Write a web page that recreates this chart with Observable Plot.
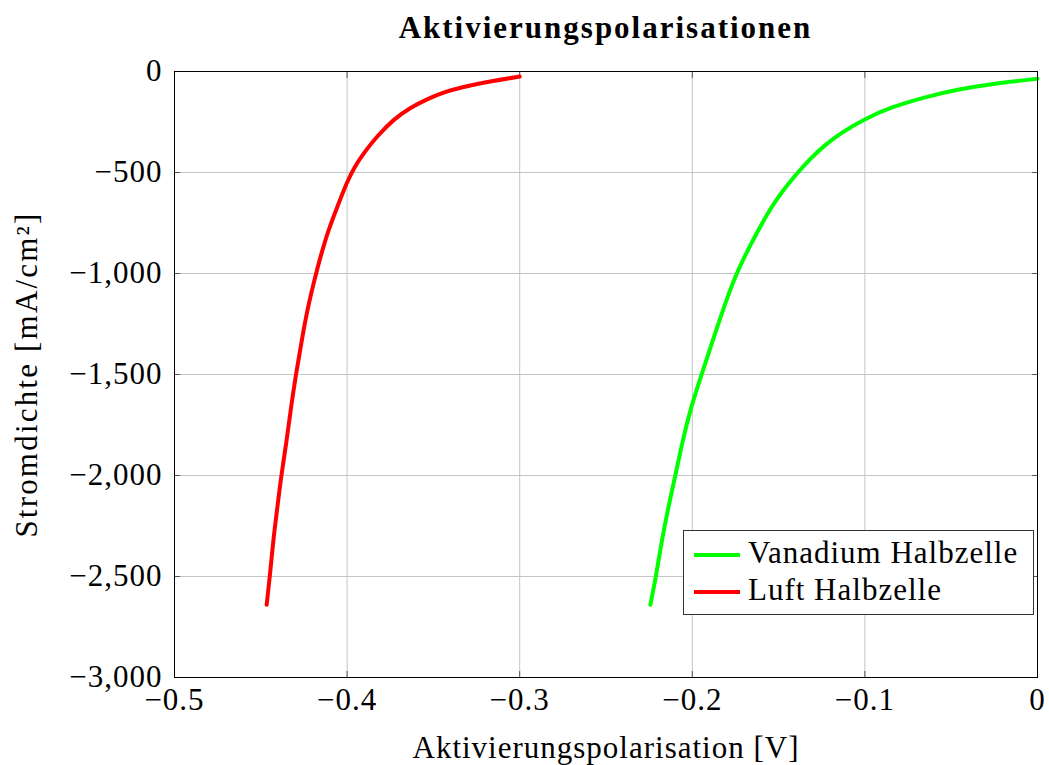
<!DOCTYPE html>
<html><head><meta charset="utf-8">
<script src="https://cdn.jsdelivr.net/npm/d3@7"></script>
<script src="https://cdn.jsdelivr.net/npm/@observablehq/plot@0.6"></script>
<style>
body{margin:0;background:#fff;}
#wrap{position:relative;width:1049px;height:765px;font-family:"Liberation Serif",serif;color:#000;}
#title{position:absolute;left:174px;width:863px;top:10px;text-align:center;font-weight:bold;font-size:31px;letter-spacing:2px;white-space:nowrap;}
#chart{position:absolute;left:0;top:55px;}
#chart svg text{letter-spacing:1px;}
#legend{position:absolute;left:683px;top:530px;width:351px;height:85px;box-sizing:border-box;border:1px solid #333;background:#fff;font-size:31px;letter-spacing:1px;}
.sw{position:absolute;left:10px;width:46px;height:4px;}
.lt{position:absolute;left:64px;line-height:36px;white-space:nowrap;}
</style>
</head><body>
<div id="wrap">
  <div id="title"></div>
  <div id="chart"></div>
  <div id="legend"></div>
</div>
<script>
const titleText = "Aktivierungspolarisationen";
const xLabel = "Aktivierungspolarisation [V]";
const yLabel = "Stromdichte [mA/cm²]";
const seriesNames = ["Vanadium Halbzelle", "Luft Halbzelle"];
const seriesColors = ["#00ff00", "#ff0000"];
const xTicks = [-0.5, -0.4, -0.3, -0.2, -0.1, 0];
const yTicks = [0, -500, -1000, -1500, -2000, -2500, -3000];

const vanX = [-0.2243, -0.2210, -0.2177, -0.2139, -0.2098, -0.2056, -0.2008, -0.1946, -0.1882, -0.1790, -0.1743, -0.1708, -0.1660, -0.1608, -0.1554, -0.1490, -0.1389, -0.1328, -0.1235, -0.1139, -0.1000, -0.0849, -0.0656, -0.0462, -0.0269, 0];
const vanY = [-2640, -2500, -2322, -2157, -2000, -1827, -1662, -1500, -1332, -1100, -1000, -936, -853, -771, -688, -605, -500, -441, -366, -304, -234, -177, -127, -89, -61, -36];

const luftX = [-0.4466, -0.4447, -0.4428, -0.4404, -0.4381, -0.4350, -0.4325, -0.4296, -0.4263, -0.4228, -0.4180, -0.4155, -0.4126, -0.4112, -0.4054, -0.3997, -0.3958, -0.3900, -0.3823, -0.3727, -0.3630, -0.3533, -0.3437, -0.3340, -0.3147, -0.3000];
const luftY = [-2640, -2495, -2322, -2157, -1997, -1827, -1662, -1497, -1332, -1167, -1001, -919, -837, -795, -663, -540, -474, -399, -317, -234, -177, -135, -102, -78, -45, -25];

const vanData = vanX.map((x, i) => ({x, y: vanY[i]}));
const luftData = luftX.map((x, i) => ({x, y: luftY[i]}));

const fmtX = d => d === 0 ? "0" : d3.format(".1f")(d);
const fmtY = d => d3.format(",")(d);

document.getElementById("title").textContent = titleText;

const tickStroke = "#555";
const chart = Plot.plot({
  width: 1049, height: 710,
  marginTop: 16, marginBottom: 88, marginLeft: 174, marginRight: 12,
  style: {fontFamily: "Liberation Serif", fontSize: "31px", background: "#fff", color: "#000", overflow: "visible"},
  x: {domain: [-0.5, 0]},
  y: {domain: [-3000, 0]},
  marks: [
    Plot.gridX(xTicks, {stroke: "#c4c4c4", strokeOpacity: 1}),
    Plot.gridY(yTicks, {stroke: "#c4c4c4", strokeOpacity: 1}),
    Plot.axisX(xTicks, {anchor: "bottom", tickSize: 0, tickPadding: 10, tickFormat: fmtX, label: xLabel, labelAnchor: "center", labelOffset: 80, labelArrow: "none"}),
    Plot.axisY(yTicks, {anchor: "left", tickSize: 0, tickPadding: 12, tickFormat: fmtY, label: yLabel, labelAnchor: "center", labelOffset: 160, labelArrow: "none"}),
    Plot.axisX(xTicks, {anchor: "bottom", tickSize: -6, tickFormat: () => "", label: null, stroke: tickStroke}),
    Plot.axisX(xTicks, {anchor: "top", tickSize: -6, tickFormat: () => "", label: null, stroke: tickStroke}),
    Plot.axisY(yTicks, {anchor: "left", tickSize: -6, tickFormat: () => "", label: null, stroke: tickStroke}),
    Plot.axisY(yTicks, {anchor: "right", tickSize: -6, tickFormat: () => "", label: null, stroke: tickStroke}),
    Plot.line(vanData, {x: "x", y: "y", stroke: seriesColors[0], strokeWidth: 4, curve: "basis"}),
    Plot.line(luftData, {x: "x", y: "y", stroke: seriesColors[1], strokeWidth: 4, curve: "basis"}),
    Plot.frame({stroke: "#000", strokeWidth: 1})
  ]
});
document.getElementById("chart").appendChild(chart);
chart.querySelectorAll('g[aria-label="y-axis label"] text').forEach(t => t.style.letterSpacing = "2.2px");

const leg = document.getElementById("legend");
const swTops = [22, 59];
const txtTops = [3.5, 40.5];
seriesNames.forEach((name, i) => {
  const sw = document.createElement("div");
  sw.className = "sw";
  sw.style.top = swTops[i] + "px";
  sw.style.background = seriesColors[i];
  leg.appendChild(sw);
  const t = document.createElement("div");
  t.className = "lt";
  t.style.top = txtTops[i] + "px";
  t.textContent = name;
  leg.appendChild(t);
});
</script>
</body></html>
